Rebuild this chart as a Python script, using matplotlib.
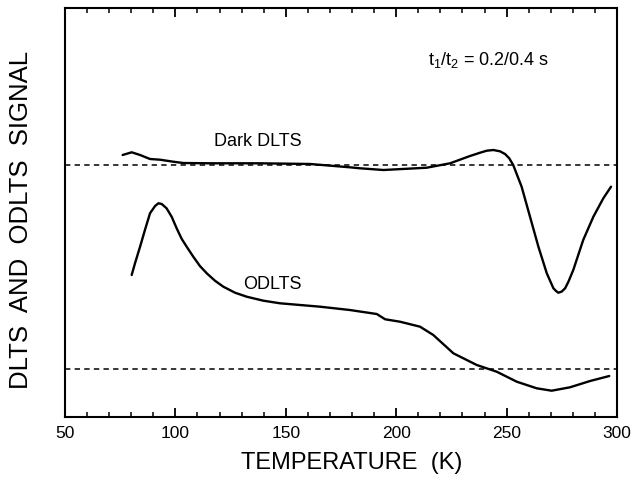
import matplotlib
matplotlib.use("Agg")
import matplotlib.pyplot as plt
from matplotlib.ticker import MultipleLocator, NullLocator

plt.rcParams["font.family"] = ["Liberation Sans", "DejaVu Sans"]
plt.rcParams["mathtext.default"] = "regular"

# signal in arbitrary units (0-100 span of the frame)
dark_T = [76.1, 80.2, 84.0, 88.5, 93.0, 99.0, 103.6, 115.7, 138.0, 161.0, 179.0,
          183.6, 194.2, 213.8, 224.4, 233.4, 238.0, 241.0, 244.0, 247.0, 249.3, 251.2,
          253.0, 256.8, 260.6, 264.4, 268.2, 271.2, 272.4, 273.4, 274.9, 276.5, 278.0,
          280.2, 284.7, 289.3, 293.8, 297.3]
dark_sig = [64.06, 64.72, 64.06, 63.08, 62.91, 62.42, 62.10, 62.03, 62.03, 61.86, 61.05,
            60.81, 60.39, 60.95, 62.03, 63.81, 64.62, 65.11, 65.28, 64.96, 64.30, 63.25,
            61.61, 56.31, 48.97, 41.64, 35.13, 31.47, 30.81, 30.39, 30.64, 31.47, 33.08,
            35.94, 43.28, 48.97, 53.47, 56.31]

odlts_T = [80.2, 81.7, 84.0, 86.2, 88.5, 90.8, 92.3, 93.8, 96.0, 98.3, 100.6, 102.8,
           105.1, 108.1, 111.1, 114.2, 117.9, 121.7, 127.0, 132.3, 139.8, 147.4,
           165.5, 179.0, 191.2, 195.0, 201.7, 210.8, 216.8, 225.9,
           236.5, 245.5, 254.6, 263.6, 270.4, 278.7, 287.8, 296.5]
odlts_sig = [34.72, 37.58, 41.64, 45.72, 49.81, 51.59, 52.25, 52.08, 51.03, 48.97, 46.10, 43.60,
             41.64, 39.19, 36.92, 35.13, 33.33, 31.86, 30.39, 29.41, 28.44, 27.80,
             26.97, 26.16, 25.18, 23.89, 23.30, 22.08, 20.05, 15.57,
             12.71, 11.08, 8.63, 7.02, 6.43, 7.26, 8.80, 10.02]

dark_zero = 61.69
odlts_zero = 11.66

fig = plt.figure(figsize=(6.36, 4.82), dpi=100)
ax = fig.add_axes([65/636, 1-417/482, 552/636, 409/482])

curve = dict(color="k", lw=1.7, solid_joinstyle="round", solid_capstyle="round")
ax.plot(dark_T, dark_sig, **curve)
ax.plot(odlts_T, odlts_sig, **curve)
ax.axhline(dark_zero, color="k", lw=1.1, ls=(0, (3.5, 2.8)))
ax.axhline(odlts_zero, color="k", lw=1.1, ls=(0, (3.5, 2.8)))

ax.text(137.2, 67.4, "Dark DLTS", fontsize=13, ha="center", va="center")
ax.text(143.7, 32.5, "ODLTS", fontsize=13, ha="center", va="center")
ax.text(214.5, 87.3, "t$_1$/t$_2$ = 0.2/0.4 s", fontsize=13, ha="left", va="center")

ax.set_xlim(50, 300)
ax.set_ylim(0, 100)
ax.xaxis.set_major_locator(MultipleLocator(50))
ax.xaxis.set_minor_locator(MultipleLocator(10))
ax.yaxis.set_major_locator(NullLocator())
ax.tick_params(axis="x", which="both", direction="in", top=True, labelsize=12.5, pad=6.5)
ax.tick_params(axis="x", which="major", length=6.5, width=1.3)
ax.tick_params(axis="x", which="minor", length=3.5, width=1.1)
for s in ax.spines.values():
    s.set_linewidth(1.5)

ax.set_xlabel("TEMPERATURE  (K)", fontsize=17, va="center")
ax.xaxis.set_label_coords(0.519, -0.1125)
ax.set_ylabel("DLTS  AND  ODLTS  SIGNAL", fontsize=18.5, va="center")
ax.yaxis.set_label_coords(-0.079, 0.482)

fig.savefig("out.png", dpi=100)
